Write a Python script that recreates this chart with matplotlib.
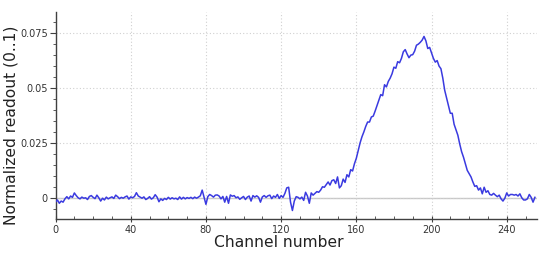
import numpy as np
import matplotlib.pyplot as plt
from matplotlib.ticker import MultipleLocator

# readout per channel
readout = [
    -0.002, -0.001, -0.0025, -0.0015, -0.002, -0.0005, 0.0005, -0.0005, 0.0008, 0.0002, 0.0022, 0.001, 0.0, -0.0005, 0.0003, -0.0002,
    0.0, -0.0008, 0.0006, 0.001, 0.0002, -0.0004, 0.0012, 0.0, -0.0015, -0.0002, -0.001, 0.0003, -0.0005, 0.0, 0.0004, -0.0003,
    0.0012, 0.0005, -0.0004, 0.0002, -0.0002, 0.0004, 0.0008, -0.0006, 0.0004, 0.0, 0.0006, 0.0023, 0.0008, 0.0003, -0.0002, 0.0004,
    -0.0008, -0.0003, 0.0005, -0.0006, 0.0, 0.0014, 0.0003, -0.0018, -0.0005, -0.0012, -0.0003, -0.0008, 0.0002, -0.0006, 0.0, -0.0005,
    -0.0002, -0.0008, 0.0004, -0.0006, 0.0002, -0.0005, 0.0001, -0.0003, 0.0002, -0.0004, 0.0003, -0.0002, 0.0003, 0.0009, 0.0035, 0.0002,
    -0.003, 0.0005, 0.0015, 0.001, 0.0003, 0.0012, 0.0013, 0.0008, -0.0005, 0.0006, -0.002, 0.0006, -0.0025, 0.0013, 0.0007, 0.001,
    0.0, 0.0004, -0.0007, 0.0, 0.0006, -0.0008, 0.0003, 0.0008, -0.0015, 0.001, 0.0003, 0.0009, 0.0002, -0.002, 0.0004, 0.0010,
    0.0002, 0.0009, 0.0012, -0.0004, 0.0008, 0.0002, 0.0015, -0.0003, 0.001, 0.0002, 0.002, 0.0045, 0.0048, -0.002, -0.0058, -0.0015,
    0.0005, 0.0002, -0.0005, 0.0003, -0.0012, 0.0025, 0.0008, -0.0025, 0.0022, 0.0012, 0.002, 0.0028, 0.0025, 0.0035, 0.005, 0.0048,
    0.006, 0.0072, 0.0058, 0.0078, 0.0082, 0.0065, 0.0095, 0.0045, 0.0055, 0.0085, 0.007, 0.0105, 0.0095, 0.0128, 0.0122, 0.0155,
    0.018, 0.0215, 0.025, 0.0278, 0.030, 0.0325, 0.0345, 0.0345, 0.0368, 0.0372, 0.0395, 0.042, 0.0445, 0.047, 0.0465, 0.0515,
    0.0505, 0.053, 0.0545, 0.0565, 0.0595, 0.0590, 0.062, 0.0615, 0.0635, 0.0665, 0.0675, 0.0655, 0.0638, 0.0650, 0.0652, 0.0668,
    0.0695, 0.070, 0.0708, 0.0718, 0.0735, 0.0715, 0.068, 0.0685, 0.066, 0.0635, 0.0618, 0.0625, 0.060, 0.0588, 0.0545, 0.049,
    0.0455, 0.042, 0.0385, 0.0385, 0.0335, 0.031, 0.0285, 0.0245, 0.021, 0.0185, 0.0155, 0.0125, 0.011, 0.0095, 0.0072, 0.0052,
    0.0055, 0.0035, 0.0045, 0.0018, 0.0048, 0.0025, 0.0032, 0.0015, 0.0012, 0.0020, 0.0012, 0.0005, 0.0012, -0.0005, -0.0015, -0.0002,
    0.0022, 0.0008, 0.0015, 0.0015, 0.0012, 0.0015, 0.0008, 0.0018, 0.0, -0.001, -0.001, -0.0005, 0.0015, 0.0002, -0.002, 0.0002,
]
channels = np.arange(len(readout))

x_ticks = [0, 40, 80, 120, 160, 200, 240]
y_ticks = [0, 0.025, 0.05, 0.075]
y_tick_labels = ["0", "0.025", "0.05", "0.075"]

fig = plt.figure(figsize=(5.5, 2.56), dpi=100)
ax = fig.add_axes([0.101, 0.146, 0.875, 0.806])

ax.axhline(0, color="#c8c8c8", lw=1.0, zorder=1)
ax.plot(channels, readout, color="#3a3ae0", lw=1.1, zorder=3)

ax.set_xlim(0, 256)
ax.set_ylim(-0.0095, 0.0845)
ax.set_xticks(x_ticks)
ax.set_yticks(y_ticks)
ax.set_yticklabels(y_tick_labels)
ax.xaxis.set_minor_locator(MultipleLocator(10))
ax.yaxis.set_minor_locator(MultipleLocator(0.005))

ax.grid(True, which="major", color="#d0d0d0", linestyle=(0, (1, 2)), lw=0.8)
for side in ["top", "right"]:
    ax.spines[side].set_visible(False)
for side in ["left", "bottom"]:
    ax.spines[side].set_color("#404040")
    ax.spines[side].set_linewidth(1.0)

ax.tick_params(axis="x", which="major", direction="inout", length=5, color="#404040",
               labelsize=7, labelcolor="#333333", pad=2)
ax.tick_params(axis="x", which="minor", direction="in", length=2.5, color="#404040")
ax.tick_params(axis="y", which="major", direction="out", length=4, color="#404040",
               labelsize=7, labelcolor="#333333", pad=1.5)
ax.tick_params(axis="y", which="minor", direction="out", length=2, color="#404040")

ax.set_xlabel("Channel number", fontsize=11.2, color="#222222")
ax.set_ylabel("Normalized readout (0..1)", fontsize=11.2, color="#222222")
ax.xaxis.set_label_coords(0.464, -0.078)
ax.yaxis.set_label_coords(-0.078, 0.452)

fig.savefig("out.png", dpi=100)
